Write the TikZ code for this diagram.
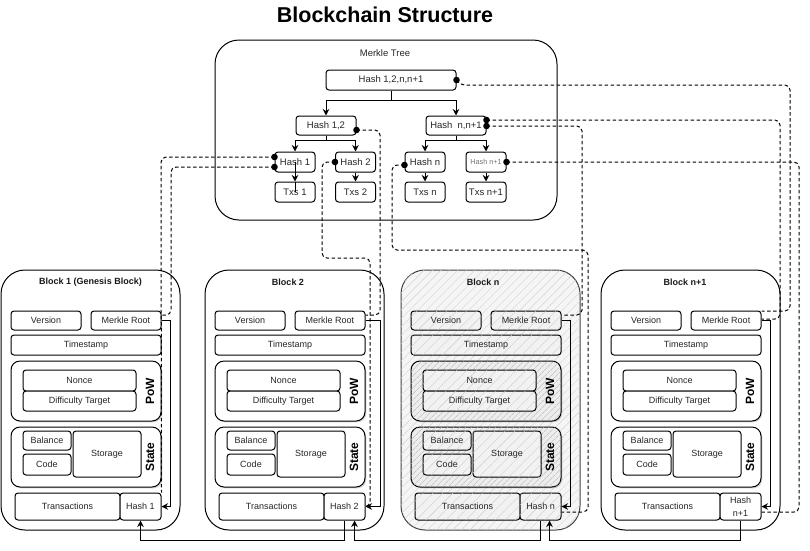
\documentclass[tikz,border=0pt]{standalone}
\usepackage{fontspec}
\setmainfont{Liberation Sans}
\usetikzlibrary{arrows.meta,calc,shadows,patterns.meta}
\newcommand\pxf[1]{\fontsize{#1}{12}\selectfont}
\newcommand\rbox[7]{%
  \pgfmathsetmacro\rbcx{(#3+#5)/2}\pgfmathsetmacro\rbcy{(#4+#6)/2}%
  \pgfmathsetmacro\rbw{#5-#3}\pgfmathsetmacro\rbh{#6-#4}%
  \node[#1, minimum width=\rbw pt, minimum height=\rbh pt] (#2) at (\rbcx,\rbcy) {#7};}
\newcommand\drawblock[8]{%
\begin{scope}[shift={(#1,0)}]
  \rbox{outer,#5}{ob#2}{1}{270}{180}{530}{}
  \node[btitle] (tt#2) at (#8,282) {#3};
  \rbox{bx,#6}{ve#2}{11}{311}{81}{330}{Version}
  \rbox{bx,#6}{mr#2}{91}{311}{161}{330}{Merkle Root}
  \rbox{bx,#6}{ts#2}{11}{335}{161}{355}{Timestamp}
  \rbox{grp,#7}{pw#2}{11}{361}{161}{421}{}
  \rbox{bx,#6}{no#2}{23}{370}{136}{391}{Nonce}
  \rbox{bx,#6}{dt#2}{23}{391}{136}{411}{Difficulty Target}
  \node[glabel] (pl#2) at (150,391) {PoW};
  \rbox{grp,#7}{st#2}{11}{427}{161}{487}{}
  \rbox{bx,#6}{ba#2}{23}{431}{71}{450}{Balance}
  \rbox{bx,#6}{co#2}{23}{454}{71}{475}{Code}
  \rbox{bx,#6}{sg#2}{73}{431}{141}{477}{Storage}
  \node[glabel] (sl#2) at (150,457) {State};
  \rbox{bx,#6}{tx#2}{15}{493}{120}{520}{Transactions}
  \rbox{bx,#6}{hs#2}{120}{493}{161}{520}{#4}
\end{scope}}
\tikzset{
  lw/.style={line width=1pt},
  bx/.style={draw, lw, fill=white, rounded corners=3pt, inner sep=0pt, align=center, font=\pxf{9}, text=black!85},
  grp/.style={draw, lw, fill=white, rounded corners=9pt, inner sep=0pt,
     drop shadow={shadow xshift=1.3pt, shadow yshift=-1.3pt, opacity=0.35}},
  outer/.style={draw, lw, fill=white, rounded corners=24pt, inner sep=0pt},
  btitle/.style={font=\bfseries\pxf{9}, text=black!90},
  glabel/.style={rotate=90, font=\bfseries\pxf{12}, text=black},
  tn/.style={draw, lw, fill=white, rounded corners=3pt, inner sep=0pt, font=\pxf{9.5}, text=black!85,
     minimum width=40pt, minimum height=20pt},
  arr/.style={lw, -{Stealth[length=6.5pt,width=6.5pt]}},
  dsh/.style={lw, dash pattern=on 3.5pt off 2.5pt, rounded corners=5pt},
  hO/.style={fill=gray!8, draw=black!75, postaction={pattern={Lines[angle=45,distance=6pt,line width=0.4pt]}, pattern color=gray!35}},
  hB/.style={fill=gray!10, postaction={pattern={Lines[angle=45,distance=7pt,line width=0.4pt]}, pattern color=gray!40}},
  hG/.style={fill=gray!14, postaction={pattern={Lines[angle=45,distance=4pt,line width=0.5pt]}, pattern color=gray!60}},
}
\begin{document}
\begin{tikzpicture}[x=1pt,y=-1pt]
\useasboundingbox (0,0) rectangle (810,550);
\node[font=\bfseries\pxf{21.5}] (title) at (385,15) {Blockchain Structure};

% Merkle tree
\node[draw, lw, rounded corners=24pt, minimum width=342pt, minimum height=180pt] (mt) at (386,130) {};
\node[font=\pxf{9.5}, text=black!85] (mtl) at (385,53) {Merkle Tree};
\node[tn, minimum width=130pt] (root) at (391,80) {Hash 1,2,n,n+1};
\node[tn, minimum width=60pt, minimum height=19pt] (h12) at (326,125.5) {Hash 1,2};
\node[tn, minimum width=60pt, minimum height=19pt] (hnn) at (456,125.5) {Hash~~n,n+1};
\node[tn] (h1) at (295,162) {Hash 1};
\node[tn] (h2) at (355.5,162) {Hash 2};
\node[tn] (hn) at (425,162) {Hash n};
\node[tn, font=\pxf{7.3}, text=black!55] (hn1) at (486,162) {Hash n+1};
\node[tn] (t1) at (295,192) {Txs 1};
\node[tn] (t2) at (355.5,192) {Txs 2};
\node[tn] (tn) at (425,192) {Txs n};
\node[tn] (tn1) at (486,192) {Txs n+1};

\draw[arr] (root.south) -- ++(0,10) -| (h12.north);
\draw[arr] (root.south) -- ++(0,10) -| (hnn.north);
\draw[arr] (h12.south) -- ++(0,5) -| (h1.north);
\draw[arr] (h12.south) -- ++(0,5) -| (h2.north);
\draw[arr] (hnn.south) -- ++(0,5) -| (hn.north);
\draw[arr] (hnn.south) -- ++(0,5) -| (hn1.north);
\draw[arr] (h1.center) -- (t1.north);
\draw[lw] (t1.north) -- (t1.center);
\draw[arr] (h2.south) -- (t2.north);
\draw[arr] (hn.south) -- (tn.north);
\draw[arr] (hn1.south) -- (tn1.north);

% Blocks
\drawblock{0}{1}{Block 1 (Genesis Block)}{Hash 1}{}{}{}{90.5}
\drawblock{204}{2}{Block 2}{Hash 2}{}{}{}{84}
\drawblock{400}{n}{Block n}{Hash n}{hO}{hB}{hG}{83}
\drawblock{600}{m}{Block n+1}{Hash\\[1pt]n+1}{}{}{}{85}

% solid connectors inside blocks
\draw[arr] (mr1.east) -- ++(9,0) |- (hs1.east);
\draw[arr] (mr2.east) -- ++(15,0) |- (hs2.east);
\draw[arr] (mrn.east) -- ++(9,0) |- (hsn.east);
\draw[arr] (mrm.east) -- ++(9,0) |- (hsm.east);

% chain connectors
\draw[arr] (hs2.south) -- ++(0,20) -| (hs1.south);
\draw[arr] (hsn.south) -- ++(0,20) -| ($(hs2.south)+(10,0)$);
\draw[arr] (hsm.south) -- ++(0,20) -| ($(hsn.south)+(9,0)$);

% dashed connectors from Merkle tree
\coordinate (p1) at (root.east);
\coordinate (p2) at ($(hnn.east)+(0,-5.5)$);
\coordinate (p3) at ($(hnn.east)+(0,0.5)$);
\coordinate (p4) at (hn1.east);
\coordinate (p5) at ($(hn.west)+(0,3)$);
\coordinate (p6) at ($(h12.east)+(0,4.5)$);
\coordinate (p7) at (h2.west);
\coordinate (p8) at ($(h1.west)+(0,-5)$);
\coordinate (p9) at ($(h1.west)+(0,5)$);

\draw[dsh] (p1) -- ++(3,5) -- (790,85) -- (790,311) -- ($(mrm.east)+(0,-9.5)$);
\draw[dsh] (p2) -- (780,120) -- (780,319) -- ($(mrm.east)+(0,-1.5)$);
\draw[dsh] (p3) -- (582,126) -- (582,315) -- ($(mrn.east)+(0,-5.5)$);
\draw[dsh] (p4) -- (799,162) -- (799,512) -- ($(hsm.east)+(0,5.5)$);
\draw[dsh] (p5) -- (392,165) -- (392,250) -- (588,250) -- (588,512) -- ($(hsn.east)+(0,5.5)$);
\draw[dsh] (p6) -- (380,130) -- (380,315) -- ($(mr2.east)+(0,-5.5)$);
\draw[dsh] (p7) -- (322,162) -- (322,258) -- (370,258) -- (370,506.5) -- (hs2.east);
\draw[dsh] (p8) -- (161,157) -- (hs1.north east);
\draw[dsh] (p9) -- (171,167) -- (171,315) -- ($(mr1.east)+(0,-5.5)$);

\foreach \p in {p1,p2,p3,p4,p5,p6,p7,p8,p9} \fill (\p) circle (3.3pt);
\end{tikzpicture}
\end{document}
